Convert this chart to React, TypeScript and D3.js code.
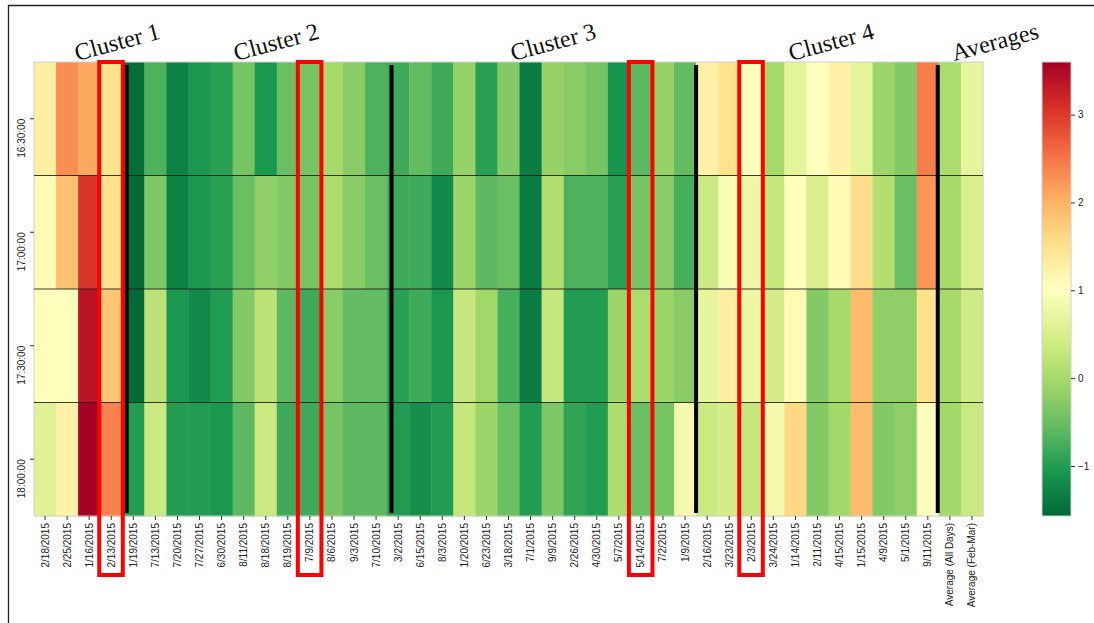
import * as d3 from "d3";
import { useEffect, useRef } from "react";

// column labels (days, then the two averages)
const days = [
  "2/18/2015", "2/25/2015", "1/16/2015", "2/13/2015", "1/19/2015", "7/13/2015",
  "7/20/2015", "7/27/2015", "6/30/2015", "8/11/2015", "8/18/2015", "8/19/2015",
  "7/9/2015", "8/6/2015", "9/3/2015", "7/10/2015", "3/2/2015", "6/15/2015",
  "8/3/2015", "1/20/2015", "6/23/2015", "3/18/2015", "7/1/2015", "9/9/2015",
  "2/26/2015", "4/30/2015", "5/7/2015", "5/14/2015", "7/2/2015", "1/9/2015",
  "2/16/2015", "3/23/2015", "2/3/2015", "3/24/2015", "1/14/2015", "2/11/2015",
  "4/15/2015", "1/15/2015", "4/9/2015", "5/1/2015", "9/11/2015",
  "Average (All Days)", "Average (Feb-Mar)",
];

const times = ["16:30:00", "17:00:00", "17:30:00", "18:00:00"];

// values per time row, same order as days
const row1630 = [1.3, 2.3, 2.1, 1.5, -1.5, -0.7, -1.3, -1.05, -0.95, -0.4, -1.05, -0.5, -0.4, 0.0, -0.25, -0.7, -0.8, -0.55, -0.8, -0.15, -0.95, -0.3, -1.35, -0.15, -0.25, -0.4, -1.1, -0.6, -0.15, -0.55, 1.25, 1.5, 1.05, 0.0, 0.65, 1.0, 1.25, 0.65, -0.1, -0.3, 2.45, 0.05, 0.7];
const row1700 = [1.1, 1.85, 3.05, 1.5, -1.55, -0.35, -1.3, -1.05, -0.95, -0.5, -0.2, -0.3, -0.4, 0.05, -0.25, -0.5, -0.8, -0.8, -1.2, -0.1, -0.6, -0.5, -1.35, 0.1, -0.7, -0.7, -0.95, -0.4, -0.25, -0.75, 0.35, 0.9, 0.8, 0.3, 1.0, 0.5, 1.1, 1.55, 0.1, -0.5, 2.25, 0.0, 0.5];
const row1730 = [1.05, 1.0, 3.4, 1.8, -1.55, 0.2, -1.05, -1.2, -1.0, -0.3, 0.2, -0.6, -0.8, -0.25, -0.55, -0.55, -0.95, -0.8, -1.05, 0.3, -0.05, -0.75, -1.35, 0.3, -1.0, -1.0, -0.1, 0.05, -0.1, -0.25, 0.7, 1.3, 0.75, 0.45, 1.1, -0.3, 0.0, 1.9, -0.2, -0.2, 1.5, 0.0, 0.4];
const row1800 = [0.6, 1.25, 3.6, 2.4, -1.0, 0.35, -1.0, -1.0, -1.05, -0.6, 0.35, -0.8, -0.8, -0.4, -0.6, -0.6, -1.0, -1.15, -1.0, 0.3, -0.1, -0.5, -1.0, -0.35, -0.9, -1.0, 0.05, -0.5, -0.4, 0.85, 0.35, 0.45, 0.3, 0.85, 1.6, -0.3, -0.05, 1.9, -0.3, -0.2, 1.0, -0.05, 0.35];

const colorTicks = [-1, 0, 1, 2, 3];
const colorMin = -1.57;
const colorMax = 3.6;

// cluster titles, placed by column index
const clusterNames = ["Cluster 1", "Cluster 2", "Cluster 3", "Cluster 4", "Averages"];
const clusterCols = [1.95, 9.15, 21.7, 34.3, 41.7];
// thick black separators between clusters (column index)
const separatorCols = [4.2, 16.2, 30, 40.95];
// days boxed in red
const highlighted = ["2/13/2015", "7/9/2015", "5/14/2015", "2/3/2015"];

export default function App() {
  const ref = useRef<SVGSVGElement>(null);

  useEffect(() => {
    const svg = d3.select(ref.current);
    svg.selectAll("*").remove();

    const left = 34, right = 983, top = 62, bottom = 516;
    const rows = [row1630, row1700, row1730, row1800];

    const x = d3.scaleBand().domain(days).range([left, right]);
    const xi = d3.scaleLinear().domain([0, days.length]).range([left, right]);
    const y = d3.scaleBand().domain(times).range([top, bottom]);

    // matplotlib-like RdYlGn_r: linear between the 11 scheme colours
    const scheme = [...d3.schemeRdYlGn[11]].reverse();
    const color = d3
      .scaleLinear<string>()
      .domain(d3.range(11).map((i) => colorMin + (i * (colorMax - colorMin)) / 10))
      .range(scheme)
      .interpolate(d3.interpolateRgb)
      .clamp(true);

    // outer frame (cropped figure border)
    svg.append("path")
      .attr("d", "M8.5,623V5.5H1094")
      .attr("fill", "none")
      .attr("stroke", "#222")
      .attr("stroke-width", 1.3);

    // cells
    const cells = svg.append("g");
    rows.forEach((vals, r) => {
      cells.selectAll(null)
        .data(vals)
        .enter()
        .append("rect")
        .attr("x", (d, i) => x(days[i])!)
        .attr("y", y(times[r])!)
        .attr("width", x.bandwidth() + 0.4)
        .attr("height", y.bandwidth() + 0.4)
        .attr("fill", (d) => color(d));
    });

    svg.append("rect")
      .attr("x", left).attr("y", top)
      .attr("width", right - left).attr("height", bottom - top)
      .attr("fill", "none").attr("stroke", "#cfcfcf").attr("stroke-width", 1);

    // horizontal lines between rows
    svg.append("g")
      .selectAll("line")
      .data(times.slice(1))
      .enter()
      .append("line")
      .attr("x1", left).attr("x2", right)
      .attr("y1", (d) => y(d)!).attr("y2", (d) => y(d)!)
      .attr("stroke", "#1a1a1a").attr("stroke-width", 1.2).attr("opacity", 0.85);

    // x axis
    const xAxis = svg.append("g")
      .attr("transform", `translate(0,${bottom})`)
      .call(d3.axisBottom(x).tickSize(4).tickSizeOuter(0));
    xAxis.select(".domain").remove();
    xAxis.selectAll("line").attr("stroke", "#333");
    xAxis.selectAll("text")
      .attr("transform", "rotate(-90)")
      .attr("text-anchor", "end")
      .attr("x", -7).attr("y", 0).attr("dy", "0.35em")
      .attr("fill", "#222")
      .style("font-family", "Liberation Sans, Arial, sans-serif")
      .style("font-size", "10px");

    // y axis
    const yAxis = svg.append("g")
      .attr("transform", `translate(${left},0)`)
      .call(d3.axisLeft(y).tickSize(4).tickSizeOuter(0));
    yAxis.select(".domain").remove();
    yAxis.selectAll("line").attr("stroke", "#333");
    yAxis.selectAll("text")
      .attr("transform", "rotate(-90)")
      .attr("text-anchor", "end")
      .attr("x", 0).attr("y", -9).attr("dy", 0)
      .attr("fill", "#222")
      .style("font-family", "Liberation Sans, Arial, sans-serif")
      .style("font-size", "10px");

    // black separators
    svg.append("g")
      .selectAll("rect")
      .data(separatorCols)
      .enter()
      .append("rect")
      .attr("x", (d) => xi(d) - 2)
      .attr("y", 65)
      .attr("width", 4)
      .attr("height", 448)
      .attr("fill", "#000");

    // red boxes
    svg.append("g")
      .selectAll("rect")
      .data(highlighted)
      .enter()
      .append("rect")
      .attr("x", (d) => x(d)! - 1)
      .attr("y", 62)
      .attr("width", x.bandwidth() + 1.5)
      .attr("height", 513)
      .attr("fill", "none")
      .attr("stroke", "#ff0000")
      .attr("stroke-width", 4);

    // cluster titles
    svg.append("g")
      .selectAll("text")
      .data(clusterNames)
      .enter()
      .append("text")
      .attr("transform", (d, i) => `translate(${xi(clusterCols[i])},61) rotate(-15)`)
      .style("font-family", "Liberation Serif, Times New Roman, serif")
      .style("font-size", "24px")
      .attr("fill", "#111")
      .text((d) => d);

    // colour bar
    const cbX = 1042, cbW = 29;
    const cb = d3.scaleLinear().domain([colorMin, colorMax]).range([bottom, top]);
    const grad = svg.append("defs")
      .append("linearGradient")
      .attr("id", "cbgrad")
      .attr("x1", 0).attr("y1", 1).attr("x2", 0).attr("y2", 0);
    grad.selectAll("stop")
      .data(d3.range(0, 1.0001, 0.02))
      .enter()
      .append("stop")
      .attr("offset", (d) => d)
      .attr("stop-color", (d) => color(colorMin + d * (colorMax - colorMin)));
    svg.append("rect")
      .attr("x", cbX).attr("y", top)
      .attr("width", cbW).attr("height", bottom - top)
      .attr("fill", "url(#cbgrad)")
      .attr("stroke", "#cfcfcf").attr("stroke-width", 1);

    const cbAxis = svg.append("g")
      .attr("transform", `translate(${cbX + cbW},0)`)
      .call(d3.axisRight(cb).tickValues(colorTicks).tickSize(4).tickFormat(d3.format("d")));
    cbAxis.select(".domain").remove();
    cbAxis.selectAll("line").attr("stroke", "#333");
    cbAxis.selectAll("text")
      .attr("fill", "#222")
      .style("font-family", "Liberation Sans, Arial, sans-serif")
      .style("font-size", "10px");
  }, []);

  return (
    <svg
      ref={ref}
      width={1094}
      height={623}
      style={{ position: "absolute", left: 0, top: 0, background: "#fff" }}
    />
  );
}
